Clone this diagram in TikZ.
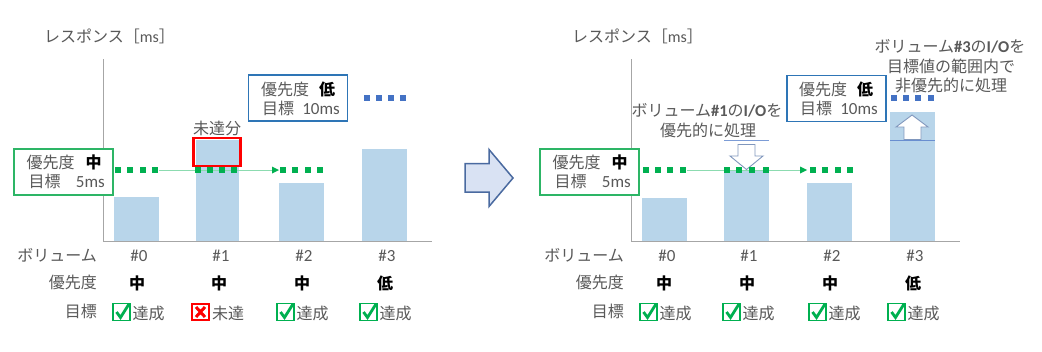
\documentclass[tikz,border=0pt]{standalone}
\usepackage{fontspec}
\setmainfont{Noto Sans CJK JP}
\newfontfamily\lat{Carlito}
\definecolor{txt}{HTML}{595959}
\definecolor{barc}{HTML}{B8D5EA}
\definecolor{grn}{HTML}{00B050}
\definecolor{blu}{HTML}{4472C4}
\definecolor{bbox}{HTML}{2E75B6}
\definecolor{gbord}{HTML}{2DB566}
\definecolor{axisc}{HTML}{A6A6A6}
\definecolor{arrf}{HTML}{D9E2F3}
\definecolor{arrd}{HTML}{4A6AA0}
\tikzset{
  lab/.style={inner sep=0pt,text=txt,font=\fontsize{16}{18}\selectfont},
  bold/.style={inner sep=0pt,text=black,font=\fontsize{16}{18}\selectfont\bfseries},
  num/.style={inner sep=0pt,text=txt,font=\fontsize{17}{18}\selectfont\lat},
  axisl/.style={draw=axisc,line width=.9pt},
  gdot/.style={fill=grn,inner sep=0pt,minimum size=5.6pt},
  bdot/.style={fill=blu,inner sep=0pt,minimum size=5.6pt},
  barbox/.style={fill=barc,inner sep=0pt},
  gbox/.style={draw=gbord,fill=white,line width=1.1pt,inner sep=0pt,minimum width=99pt,minimum height=46pt},
  lbox/.style={draw=bbox,fill=white,line width=1.2pt,inner sep=0pt,minimum width=99pt,minimum height=46pt},
  flow/.style={draw=grn!45,line width=.9pt},
  tick/.style={fill=white,draw=arrd!70,line width=.9pt,line join=miter},
  mk/.style={draw=grn,fill=white,line width=1.9pt,inner sep=0pt,minimum size=17pt},
  nomk/.style={draw=red,fill=white,line width=1.9pt,inner sep=0pt,minimum size=16.5pt},
}
\newcommand{\okmark}[3]{%
  \node[mk] (#1) at (#2+9.5,312) {};
  \draw[grn,line width=2.8pt] (#2+4.5,312) -- (#2+8.5,317.5) -- (#2+17,304);
  \node[lab,anchor=west] at (#2+20.5,313) {#3};
}
\newcommand{\ngmark}[3]{%
  \node[nomk] (#1) at (#2+9.5,312) {};
  \draw[red,line width=3pt] (#2+5,307) -- (#2+14,317) (#2+14,307) -- (#2+5,317);
  \node[lab,anchor=west] at (#2+21,313) {#3};
}
\begin{document}
\begin{tikzpicture}[x=1pt,y=-1pt]
\useasboundingbox[fill=white] (0,0) rectangle (1042,351);

% ---------- left chart
\node[lab,anchor=west] (tl) at (44,36) {レスポンス［{\lat ms}］};
\node[barbox,minimum width=45pt,minimum height=44pt] (b0) at (136.5,219) {};
\node[barbox,minimum width=43pt,minimum height=101pt] (b1) at (217.5,190.5) {};
\node[barbox,minimum width=45pt,minimum height=58pt] (b2) at (301.5,212) {};
\node[barbox,minimum width=45pt,minimum height=92pt] (b3) at (384.5,195) {};
\coordinate (ax0) at (103,59); \coordinate (ax1) at (103,241); \coordinate (ax2) at (432,241);
\draw[axisl] (ax0) -- (ax1) -- (ax2);
\coordinate (fl0) at (159,170); \coordinate (fl1) at (272,170);
\draw[flow] (fl0) -- (fl1);
\fill[grn] (272,166.5) -- (279,170) -- (272,173.5) -- cycle;
\node[draw=red,line width=2.5pt,inner sep=0pt,minimum width=47pt,minimum height=28pt] (miss) at (217,152) {};
\node[lab] (ml) at (217,128) {未達分};
\foreach \i/\x in {a/118,b/130,c/143,d/155,e/198,f/210,g/222,h/234,i/283,j/295,k/308,l/320}
  \node[gdot] (gd\i) at (\x,170) {};
\foreach \i/\x in {a/367,b/379,c/391,d/403}
  \node[bdot] (bd\i) at (\x,98) {};
\node[gbox] (gb) at (63.5,172) {};
\node[lab,anchor=west] at (26.5,162) {優先度};
\node[bold,anchor=west] at (85.5,162) {中};
\node[lab,anchor=west] at (28.5,181) {目標};
\node[num,anchor=east] at (105,182) {5ms};
\node[lbox] (lb) at (298,98) {};
\node[lab,anchor=west] at (261,89) {優先度};
\node[bold,anchor=west] at (319,89) {低};
\node[lab,anchor=west] at (262,108) {目標};
\node[num,anchor=east] at (340,109) {10ms};
\node[lab,anchor=east] at (97,255) {ボリューム};
\node[lab,anchor=east] at (97,282) {優先度};
\node[lab,anchor=east] at (97,311) {目標};
\foreach \x/\t in {139/0,221/1,304/2,387/3} \node[num] at (\x,256) {\#\t};
\foreach \x/\t in {137/中,219/中,302/中,385/低} \node[bold] at (\x,283) {\t};
\okmark{c0}{112}{達成}
\ngmark{c1}{191}{未達}
\okmark{c2}{276}{達成}
\okmark{c3}{359}{達成}

% ---------- centre arrow
\draw[fill=arrf,draw=arrd,line width=1.5pt,line join=miter] (465,163.5) -- (489,163.5) -- (489,149.5) -- (513,178) -- (489,206.5) -- (489,192) -- (465,192) -- cycle;

% ---------- right chart
\node[lab,anchor=west] (tr) at (572,36) {レスポンス［{\lat ms}］};
\node[barbox,minimum width=45pt,minimum height=43pt] (r0) at (664.5,219.5) {};
\node[barbox,minimum width=45pt,minimum height=71pt] (r1) at (746.5,205.5) {};
\node[barbox,minimum width=45pt,minimum height=58pt] (r2) at (829.5,212) {};
\node[barbox,minimum width=45pt,minimum height=129pt] (r3) at (912.5,176.5) {};
\coordinate (rx0) at (631,59); \coordinate (rx1) at (631,241); \coordinate (rx2) at (960,241);
\draw[axisl] (rx0) -- (rx1) -- (rx2);
\coordinate (fr0) at (687,170); \coordinate (fr1) at (800,170);
\draw[flow] (fr0) -- (fr1);
\fill[grn] (800,166.5) -- (807,170) -- (800,173.5) -- cycle;
\coordinate (t1a) at (724,140); \coordinate (t1b) at (769,140);
\draw[blu!70,line width=.8pt] (t1a) -- (t1b);
\coordinate (t3a) at (890,140); \coordinate (t3b) at (935,140);
\draw[blu!80,line width=.8pt] (t3a) -- (t3b);
\draw[tick] (738,144.5) -- (755,144.5) -- (755,156) -- (763,156) -- (746.5,169.5) -- (730,156) -- (738,156) -- cycle;
\draw[tick] (904,139.5) -- (921,139.5) -- (921,127) -- (928,127) -- (912,115) -- (896,127) -- (904,127) -- cycle;
\foreach \i/\x in {a/646,b/658,c/670,d/683,e/727,f/739,g/752,h/766,i/813,j/825,k/838,l/850}
  \node[gdot] (hd\i) at (\x,170) {};
\foreach \i/\x in {a/894,b/906,c/918,d/931}
  \node[bdot] (kd\i) at (\x,98) {};
\node[gbox] (rgb) at (589.5,172) {};
\node[lab,anchor=west] at (552.5,162) {優先度};
\node[bold,anchor=west] at (611.5,162) {中};
\node[lab,anchor=west] at (554.5,181) {目標};
\node[num,anchor=east] at (631,182) {5ms};
\node[lbox] (rlb) at (836.5,98.5) {};
\node[lab,anchor=west] at (799,89) {優先度};
\node[bold,anchor=west] at (857,89) {低};
\node[lab,anchor=west] at (800,108) {目標};
\node[num,anchor=east] at (878,109) {10ms};
\node[lab] at (707,110) {ボリューム{\lat\fontsize{16.5}{18}\selectfont\bfseries\#1}の{\lat\fontsize{16.5}{18}\selectfont\bfseries I/O}を};
\node[lab] at (708,130) {優先的に処理};
\node[lab] at (950,46) {ボリューム{\lat\fontsize{16.5}{18}\selectfont\bfseries\#3}の{\lat\fontsize{16.5}{18}\selectfont\bfseries I/O}を};
\node[lab] at (951,66) {目標値の範囲内で};
\node[lab] at (951,85) {非優先的に処理};
\node[lab,anchor=east] at (624,255) {ボリューム};
\node[lab,anchor=east] at (624,282) {優先度};
\node[lab,anchor=east] at (624,311) {目標};
\foreach \x/\t in {667/0,749/1,832/2,915/3} \node[num] at (\x,256) {\#\t};
\foreach \x/\t in {664/中,747/中,830/中,913/低} \node[bold] at (\x,283) {\t};
\okmark{d0}{639}{達成}
\okmark{d1}{722}{達成}
\okmark{d2}{808}{達成}
\okmark{d3}{887}{達成}
\end{tikzpicture}
\end{document}
